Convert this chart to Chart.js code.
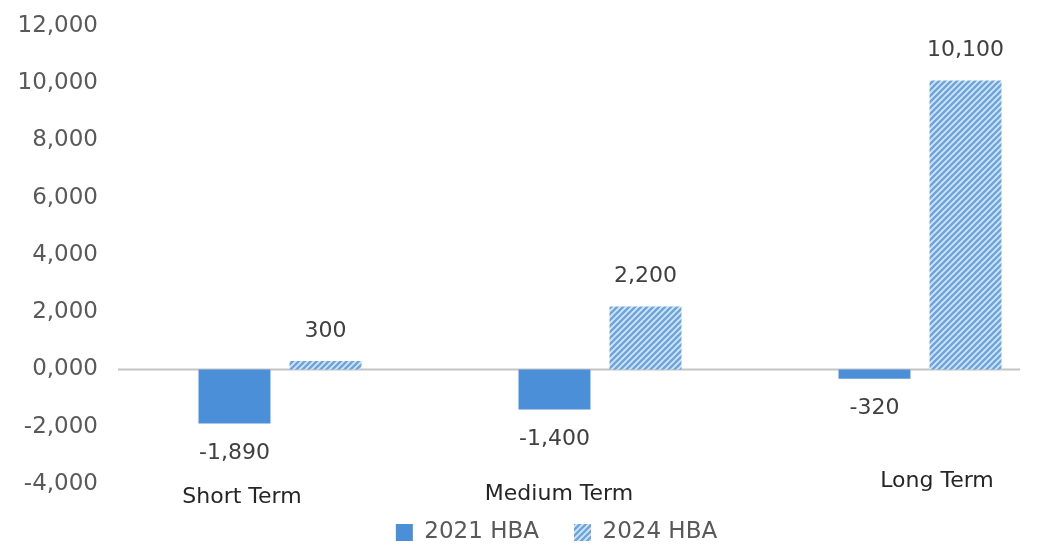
<!DOCTYPE html>
<html>
<head>
<meta charset="utf-8">
<script src="https://cdn.jsdelivr.net/npm/chart.js@4"></script>
<style>
    html, body { margin: 0; padding: 0; background: #fff; overflow: hidden; }
    #wrap { width: 1080px; height: 547px; }
</style>
</head>
<body>
<div id="wrap"><canvas id="hbaChart" width="1080" height="547"></canvas></div>
<script>
const categories = ['Short Term', 'Medium Term', 'Long Term'];
const hba2021 = [-1890, -1400, -320];
const hba2024 = [300, 2200, 10100];
const yTicks = [-4000, -2000, 0, 2000, 4000, 6000, 8000, 10000, 12000];

// category labels sit a little off the bar pairs
const labelNudge = [[-38, 13], [-41, 10], [17, -3]];
const legendShift = [28, 11];

const FONT = 'DejaVu Sans';

function fmtTick(v) {
    return (v < 0 ? '-' : '') + Math.floor(Math.abs(v) / 1000) + ',000';
}

function fmtValue(v) {
    return v.toLocaleString('en-US');
}

function stripes() {
    const c = document.createElement('canvas');
    const s = 6;
    c.width = s; c.height = s;
    const g = c.getContext('2d');
    g.fillStyle = '#d6e7f6';
    g.fillRect(0, 0, s, s);
    g.strokeStyle = '#6ea5dc';
    g.lineWidth = 2.6;
    g.beginPath();
    g.moveTo(0, s); g.lineTo(s, 0);
    g.moveTo(-s / 2, s / 2); g.lineTo(s / 2, -s / 2);
    g.moveTo(s / 2, s * 1.5); g.lineTo(s * 1.5, s / 2);
    g.stroke();
    return g.createPattern(c, 'repeat');
}

const extras = {
    id: 'extras',
    afterLayout(chart) {
        const lg = chart.legend;
        lg.left += legendShift[0]; lg.right += legendShift[0];
        lg.top += legendShift[1]; lg.bottom += legendShift[1];
    },
    beforeDatasetsDraw(chart) {
        const { ctx, chartArea, scales } = chart;
        const y0 = scales.y.getPixelForValue(0);
        ctx.save();
        ctx.strokeStyle = '#c4c4c4';
        ctx.lineWidth = 2;
        ctx.beginPath();
        ctx.moveTo(chartArea.left - 2, y0);
        ctx.lineTo(1020, y0);
        ctx.stroke();
        ctx.restore();
    },
    afterDatasetsDraw(chart) {
        const { ctx, chartArea, scales } = chart;
        ctx.save();
        ctx.font = '22px "' + FONT + '"';
        ctx.fillStyle = '#404040';
        ctx.textAlign = 'center';
        ctx.textBaseline = 'middle';
        chart.data.datasets.forEach((ds, i) => {
            chart.getDatasetMeta(i).data.forEach((bar, j) => {
                const v = ds.data[j];
                const ty = v >= 0 ? bar.y - 30 : bar.y + 30;
                ctx.fillText(fmtValue(v), bar.x, ty);
            });
        });
        ctx.fillStyle = '#262626';
        categories.forEach((name, i) => {
            const x = scales.x.getPixelForValue(i) + labelNudge[i][0];
            ctx.fillText(name, x, chartArea.bottom + labelNudge[i][1]);
        });
        ctx.restore();
    }
};

new Chart(document.getElementById('hbaChart'), {
    type: 'bar',
    data: {
        labels: categories,
        datasets: [
            { label: '2021 HBA', data: hba2021, backgroundColor: '#4a8fd8', borderWidth: 0 },
            { label: '2024 HBA', data: hba2024, backgroundColor: stripes(), borderWidth: 0 }
        ]
    },
    options: {
        responsive: false,
        animation: false,
        categoryPercentage: 0.569,
        barPercentage: 0.79,
        layout: { padding: { top: 26, bottom: 4 } },
        scales: {
            x: {
                grid: { display: false },
                border: { display: false },
                ticks: { display: false },
                afterFit: s => { s.height = 14; }
            },
            y: {
                min: -4000,
                max: 12000,
                afterBuildTicks: s => { s.ticks = yTicks.map(v => ({ value: v })); },
                grid: { display: false, drawTicks: false },
                border: { display: false },
                ticks: {
                    color: '#595959',
                    font: { family: FONT, size: 23 },
                    padding: 22,
                    callback: v => fmtTick(v)
                },
                afterFit: s => {
                    s.width = 120;
                    s.paddingTop = 0;
                    s.paddingBottom = 0;
                }
            }
        },
        plugins: {
            legend: {
                position: 'bottom',
                labels: {
                    color: '#595959',
                    font: { family: FONT, size: 23 },
                    boxWidth: 17,
                    boxHeight: 17,
                    padding: 12,
                    generateLabels: chart => Chart.defaults.plugins.legend.labels.generateLabels(chart)
                        .map(item => Object.assign(item, { text: item.text + '\u2003' }))
                }
            },
            tooltip: { enabled: false }
        }
    },
    plugins: [extras]
});
</script>
</body>
</html>
